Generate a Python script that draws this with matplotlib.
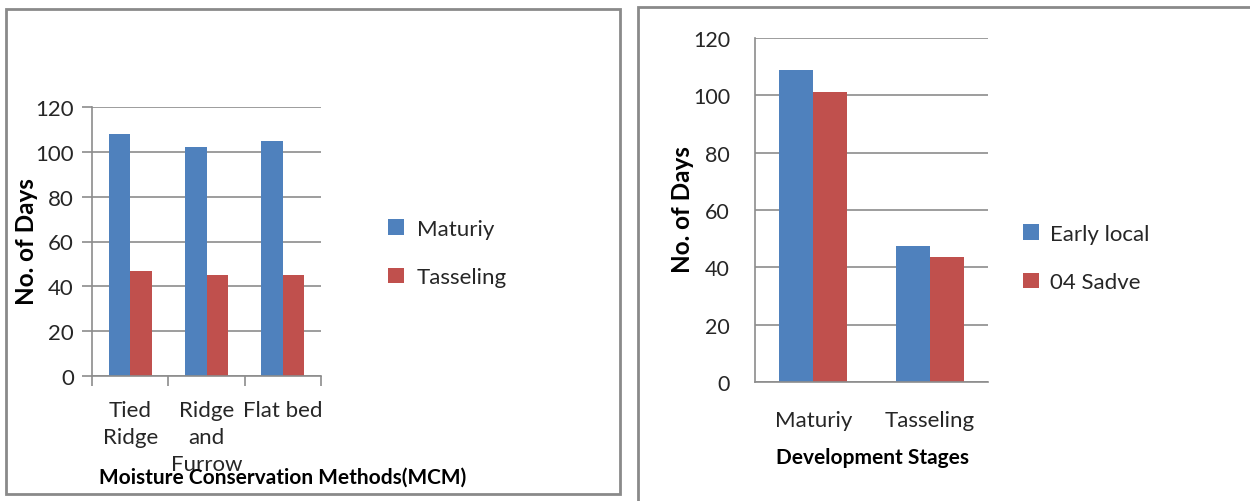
import numpy as np
import matplotlib
matplotlib.use('Agg')
import matplotlib.pyplot as plt
from matplotlib.patches import Rectangle

plt.rcParams['font.family'] = ['Lato', 'DejaVu Sans']

# left chart data
mcm_labels = ['Tied\nRidge', 'Ridge\nand\nFurrow', 'Flat bed']
mcm_maturiy = [108, 102, 105]
mcm_tasseling = [47, 45, 45]

# right chart data
stage_labels = ['Maturiy', 'Tasseling']
early_local = [109, 47.5]
sadve_04 = [101, 43.5]

BLUE = '#4F81BD'
RED = '#C0504D'
GRID = '#8C8C8C'
TXT = '#262626'

W, H = 1250, 502
fig = plt.figure(figsize=(W/100, H/100), dpi=100)


def px(x0, y0, x1, y1):
    # pixel box -> figure fraction [left, bottom, width, height]
    return [x0/W, 1-y1/H, (x1-x0)/W, (y1-y0)/H]


def style_axes(ax, ticks_out, ypad, ysize):
    ax.set_ylim(0, 120)
    ax.set_yticks(range(0, 121, 20))
    ax.yaxis.grid(True, color=GRID, linewidth=1.2)
    ax.set_axisbelow(True)
    for s in ['top', 'right']:
        ax.spines[s].set_visible(False)
    for s in ['left', 'bottom']:
        ax.spines[s].set_color(GRID)
        ax.spines[s].set_linewidth(1.2)
    ax.tick_params(axis='y', length=7 if ticks_out else 0, color=GRID, width=1.2,
                   labelsize=ysize, labelcolor=TXT, pad=ypad)
    ax.tick_params(axis='x', which='major', length=0, labelsize=16, labelcolor=TXT)


# panel borders
fig.add_artist(Rectangle((6/W, 1-495/H), 614/W, 485/H, transform=fig.transFigure,
                         fill=False, edgecolor='#8A8A8A', linewidth=2))
fig.add_artist(Rectangle((638/W, -0.05), 700/W, 1-8/H+0.05, transform=fig.transFigure,
                         fill=False, edgecolor='#8A8A8A', linewidth=2))

# left chart
ax1 = fig.add_axes(px(92, 108, 321, 377))
x = np.arange(len(mcm_labels))
bw = 0.28
ax1.bar(x - bw/2, mcm_maturiy, bw, color=BLUE, label='Maturiy')
ax1.bar(x + bw/2, mcm_tasseling, bw, color=RED, label='Tasseling')
ax1.set_xlim(-0.5, len(mcm_labels) - 0.5)
style_axes(ax1, True, 6, 16)
ax1.set_xticks(x)
ax1.set_xticklabels(mcm_labels, linespacing=1.45, va='top')
ax1.tick_params(axis='x', pad=17)
ax1.set_xticks(np.arange(-0.5, len(mcm_labels)), minor=True)
ax1.tick_params(axis='x', which='minor', length=7, color=GRID, width=1.2)
fig.text(283/W, 1-478/H, 'Moisture Conservation Methods(MCM)', ha='center', va='center',
         fontsize=15, fontweight='bold', color='black')
fig.text(27/W, 1-242/H, 'No. of Days', ha='center', va='center', rotation=90,
         fontsize=17.5, fontweight='bold', color='black')
ax1.legend(loc='center left', bbox_to_anchor=(368/W, 1-254/H), bbox_transform=fig.transFigure,
           frameon=False, fontsize=16, handlelength=0.7, handleheight=0.7, handletextpad=0.6,
           labelspacing=1.3, labelcolor=TXT)

# right chart
ax2 = fig.add_axes(px(755, 39, 988, 383))
x2 = np.arange(len(stage_labels))
bw2 = 0.29
ax2.bar(x2 - bw2/2, early_local, bw2, color=BLUE, label='Early local')
ax2.bar(x2 + bw2/2, sadve_04, bw2, color=RED, label='04 Sadve')
ax2.set_xlim(-0.5, len(stage_labels) - 0.5)
style_axes(ax2, False, 18, 15.5)
ax2.set_xticks(x2)
ax2.set_xticklabels(stage_labels)
ax2.tick_params(axis='x', pad=20)
fig.text(872/W, 1-458/H, 'Development Stages', ha='center', va='center',
         fontsize=15, fontweight='bold', color='black')
fig.text(683/W, 1-210/H, 'No. of Days', ha='center', va='center', rotation=90,
         fontsize=17.5, fontweight='bold', color='black')
ax2.legend(loc='center left', bbox_to_anchor=(1003/W, 1-259/H), bbox_transform=fig.transFigure,
           frameon=False, fontsize=16, handlelength=0.7, handleheight=0.7, handletextpad=0.5,
           labelspacing=1.3, labelcolor=TXT)

fig.savefig('out.png', dpi=100)
